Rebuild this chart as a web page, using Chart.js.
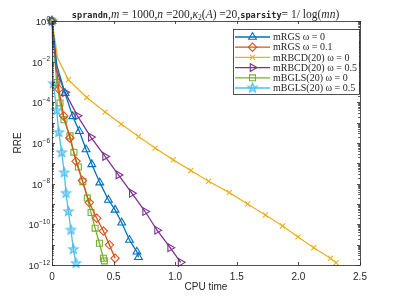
<!DOCTYPE html>
<html>
<head>
<meta charset="utf-8">
<script src="https://cdn.jsdelivr.net/npm/chart.js@4.4.1/dist/chart.umd.min.js"></script>
<style>
  html, body { margin: 0; padding: 0; background: #fff; }
</style>
</head>
<body>
<canvas id="rreChart" width="399" height="299"></canvas>
<script>
// legend labels
const seriesNames = [
  'mRGS ω = 0', 'mRGS ω = 0.1', 'mRBCD(20) ω = 0',
  'mRBCD(20) ω = 0.5', 'mBGLS(20) ω = 0', 'mBGLS(20) ω = 0.5'
];

// CPU time and log10(RRE)
const rgs0Time = [0, 0.04, 0.106, 0.168, 0.222, 0.276, 0.323, 0.388, 0.458, 0.512, 0.566, 0.629, 0.689, 0.702];
const rgs0Log  = [0, -2.2, -3.55, -4.69, -5.42, -6.32, -7.05, -7.95, -8.80, -9.29, -9.92, -10.77, -11.35, -11.62];

const rgs01Time = [0, 0.055, 0.095, 0.145, 0.195, 0.246, 0.303, 0.363, 0.417, 0.466, 0.512];
const rgs01Log  = [0, -3.35, -4.67, -5.75, -6.9, -7.85, -8.93, -9.7, -10.33, -11.01, -11.67];

const rbcd0Time = [0, 0.046, 0.133, 0.282, 0.431, 0.561, 0.702, 0.837, 0.984, 1.127, 1.271, 1.439, 1.588, 1.732, 1.872, 1.997, 2.125, 2.26, 2.306];
const rbcd0Log  = [0, -1.82, -2.89, -3.76, -4.48, -5.07, -5.68, -6.25, -6.83, -7.35, -7.88, -8.44, -9.0, -9.54, -10.08, -10.62, -11.15, -11.67, -11.89];

const rbcd05Time = [0, 0.035, 0.106, 0.206, 0.315, 0.431, 0.539, 0.648, 0.756, 0.853, 0.959, 1.044];
const rbcd05Log  = [0, -2.4, -3.51, -4.66, -5.71, -6.66, -7.57, -8.47, -9.37, -10.29, -11.15, -11.87];

const bgls0Time = [0, 0.038, 0.065, 0.097, 0.146, 0.178, 0.214, 0.25, 0.287, 0.317, 0.35, 0.385, 0.417, 0.425];
const bgls0Log  = [0, -3.02, -4.03, -4.86, -5.65, -6.45, -7.18, -7.9, -8.71, -9.42, -10.19, -10.93, -11.67, -11.80];

const bgls05Time = [0, 0.011, 0.038, 0.055, 0.079, 0.099, 0.114, 0.133, 0.154, 0.173, 0.195];
const bgls05Log  = [0, -3.08, -4.4, -5.48, -6.47, -7.46, -8.47, -9.37, -10.28, -11.23, -11.92];

// y tick labels: 10 raised to these powers
const yTickExponents = ['0', '-2', '-4', '-6', '-8', '-10', '-12'];

const AX = '#262626';
const SANS = '"Liberation Sans", Arial, sans-serif';
const SERIF = '"Liberation Serif", "DejaVu Serif", serif';

// pentagram marker (MATLAB 'p')
function makeStar(color, r) {
  const s = Math.ceil(r * 2 + 3);
  const c = document.createElement('canvas');
  c.width = s; c.height = s;
  const g = c.getContext('2d');
  g.strokeStyle = color;
  g.fillStyle = 'rgba(77,190,238,0.45)';
  g.lineWidth = 1.1;
  g.beginPath();
  for (let i = 0; i < 10; i++) {
    const a = -Math.PI / 2 + i * Math.PI / 5;
    const rr = i % 2 ? r * 0.42 : r;
    g.lineTo(s / 2 + rr * Math.cos(a), s / 2 + rr * Math.sin(a));
  }
  g.closePath();
  g.fill();
  g.stroke();
  return c;
}

const toPts = (xs, ys) => xs.map((x, i) => ({ x, y: ys[i] }));
// index 1 is just a bend in the line, no marker there
const kneeRadius = r => ctx => (ctx.dataIndex === 1 ? 0 : r);

const datasets = [
  { label: seriesNames[0], data: toPts(rgs0Time, rgs0Log), borderColor: '#0072BD',
    pointStyle: 'triangle', pointRadius: kneeRadius(4.5), legendRadius: 4.5 },
  { label: seriesNames[1], data: toPts(rgs01Time, rgs01Log), borderColor: '#D95319',
    pointStyle: 'rectRot', pointRadius: 4.2, legendRadius: 4.2 },
  { label: seriesNames[2], data: toPts(rbcd0Time, rbcd0Log), borderColor: '#EDB120',
    pointStyle: 'crossRot', pointRadius: kneeRadius(3.6), legendRadius: 3.6 },
  { label: seriesNames[3], data: toPts(rbcd05Time, rbcd05Log), borderColor: '#7E2F8E',
    pointStyle: 'triangle', pointRadius: kneeRadius(4.5), pointRotation: 90, legendRadius: 4.5 },
  { label: seriesNames[4], data: toPts(bgls0Time, bgls0Log), borderColor: '#77AC30',
    pointStyle: 'rect', pointRadius: 4.2, legendRadius: 4.2 },
  { label: seriesNames[5], data: toPts(bgls05Time, bgls05Log), borderColor: '#4DBEEE',
    pointStyle: makeStar('#4DBEEE', 5), pointRadius: 5, legendRadius: 5 }
];
datasets.forEach(d => {
  d.backgroundColor = 'transparent';
  d.pointBorderColor = d.borderColor;
  d.pointBackgroundColor = 'transparent';
  d.borderWidth = 1.3;
  d.pointBorderWidth = 1.1;
  d.clip = false;
});

// axes box, inward ticks, tick labels, title, axis labels and legend
const matlabFrame = {
  id: 'matlabFrame',
  afterDraw(chart) {
    const { ctx, chartArea: a, scales: { x, y } } = chart;
    ctx.save();
    ctx.strokeStyle = AX;
    ctx.lineWidth = 0.8;
    ctx.strokeRect(a.left + 0.5, a.top + 0.5, a.right - a.left, a.bottom - a.top);

    // x ticks, bottom and top
    ctx.beginPath();
    x.ticks.forEach(t => {
      const px = Math.round(x.getPixelForValue(t.value)) + 0.5;
      ctx.moveTo(px, a.bottom); ctx.lineTo(px, a.bottom - 3);
      ctx.moveTo(px, a.top); ctx.lineTo(px, a.top + 3);
    });
    // y major and minor ticks, left and right
    for (let d = -12; d <= 0; d++) {
      const py = Math.round(y.getPixelForValue(d)) + 0.5;
      ctx.moveTo(a.left, py); ctx.lineTo(a.left + 3, py);
      ctx.moveTo(a.right, py); ctx.lineTo(a.right - 3, py);
      if (d < 0) {
        for (let k = 2; k <= 9; k++) {
          const pm = Math.round(y.getPixelForValue(d + Math.log10(k))) + 0.5;
          ctx.moveTo(a.left, pm); ctx.lineTo(a.left + 1.8, pm);
          ctx.moveTo(a.right, pm); ctx.lineTo(a.right - 1.8, pm);
        }
      }
    }
    ctx.stroke();

    // y tick labels 10^k with raised exponent
    ctx.fillStyle = AX;
    ctx.textBaseline = 'alphabetic';
    ctx.textAlign = 'left';
    yTickExponents.forEach(e => {
      const py = y.getPixelForValue(Number(e));
      const ex = e.replace('-', '\u2212');
      ctx.font = '6.5px ' + SANS;
      const we = ctx.measureText(ex).width;
      ctx.font = '9.5px ' + SANS;
      const wb = ctx.measureText('10').width;
      const right = a.left - 2;
      ctx.fillText('10', right - we - wb, py + 4);
      ctx.font = '6.5px ' + SANS;
      ctx.fillText(ex, right - we, py - 0.5);
    });

    // axis titles
    ctx.font = '10px ' + SANS;
    ctx.textAlign = 'center';
    ctx.textBaseline = 'middle';
    ctx.fillText('CPU time', (a.left + a.right) / 2, 287);
    ctx.save();
    ctx.translate(18, (a.top + a.bottom) / 2);
    ctx.rotate(-Math.PI / 2);
    ctx.fillText('RRE', 0, 0);
    ctx.restore();

    // title with mixed fonts
    const tt = 'bold 8.6px "DejaVu Sans Mono", "Liberation Mono", monospace';
    const rm = '11.5px ' + SERIF;
    const it = 'italic 11.5px ' + SERIF;
    const segs = [
      ['sprandn', tt], [',', rm], ['m', it], [' = 1000,', rm], ['n', it], [' =200,', rm],
      ['κ', it], ['2', '7.5px ' + SERIF, 2.5], ['(', rm], ['A', it], [') =20,', rm],
      ['sparsity', tt], ['= 1/ log(', rm], ['mn', it], [')', rm]
    ];
    let total = 0;
    segs.forEach(s => { ctx.font = s[1]; total += ctx.measureText(s[0]).width; });
    let tx = 205.5 - total / 2;
    ctx.textAlign = 'left';
    ctx.textBaseline = 'alphabetic';
    segs.forEach(s => {
      ctx.font = s[1];
      ctx.fillText(s[0], tx, 17.5 + (s[2] || 0));
      tx += ctx.measureText(s[0]).width;
    });

    // legend box
    const lx = 233, ly = 29, lw = 126, lh = 65;
    ctx.fillStyle = '#fff';
    ctx.fillRect(lx, ly, lw, lh);
    ctx.strokeStyle = AX;
    ctx.lineWidth = 0.8;
    ctx.strokeRect(lx + 0.5, ly + 0.5, lw, lh);
    chart.data.datasets.forEach((ds, i) => {
      const yy = 37 + i * 10.2;
      ctx.strokeStyle = ds.borderColor;
      ctx.lineWidth = 1.3;
      ctx.beginPath();
      ctx.moveTo(lx + 2, yy); ctx.lineTo(lx + 37, yy);
      ctx.stroke();
      ctx.fillStyle = 'rgba(0,0,0,0)';
      ctx.lineWidth = 1.1;
      Chart.helpers.drawPoint(ctx, {
        pointStyle: ds.pointStyle,
        radius: ds.legendRadius,
        rotation: ds.pointRotation || 0,
        borderWidth: 1.1
      }, lx + 19.5, yy);
      ctx.fillStyle = AX;
      ctx.font = '10px ' + SERIF;
      ctx.textBaseline = 'middle';
      ctx.fillText(ds.label, lx + 40, yy + 0.5);
    });
    ctx.restore();
  }
};

new Chart(document.getElementById('rreChart').getContext('2d'), {
  type: 'line',
  data: { datasets },
  plugins: [matlabFrame],
  options: {
    responsive: false,
    devicePixelRatio: 1,
    animation: false,
    layout: { padding: { left: 0, top: 21, right: 39, bottom: 0 } },
    plugins: { legend: { display: false }, tooltip: { enabled: false } },
    elements: { line: { tension: 0 } },
    scales: {
      x: {
        type: 'linear', min: 0, max: 2.5,
        grid: { display: false, drawTicks: false }, border: { display: false },
        ticks: { stepSize: 0.5, padding: 6, color: AX, font: { family: SANS, size: 10 } },
        afterFit: s => { s.height = 34; }
      },
      y: {
        type: 'linear', min: -12, max: 0,
        grid: { display: false, drawTicks: false }, border: { display: false },
        ticks: { display: false, stepSize: 2 },
        afterFit: s => { s.width = 52; }
      }
    }
  }
});
</script>
</body>
</html>
